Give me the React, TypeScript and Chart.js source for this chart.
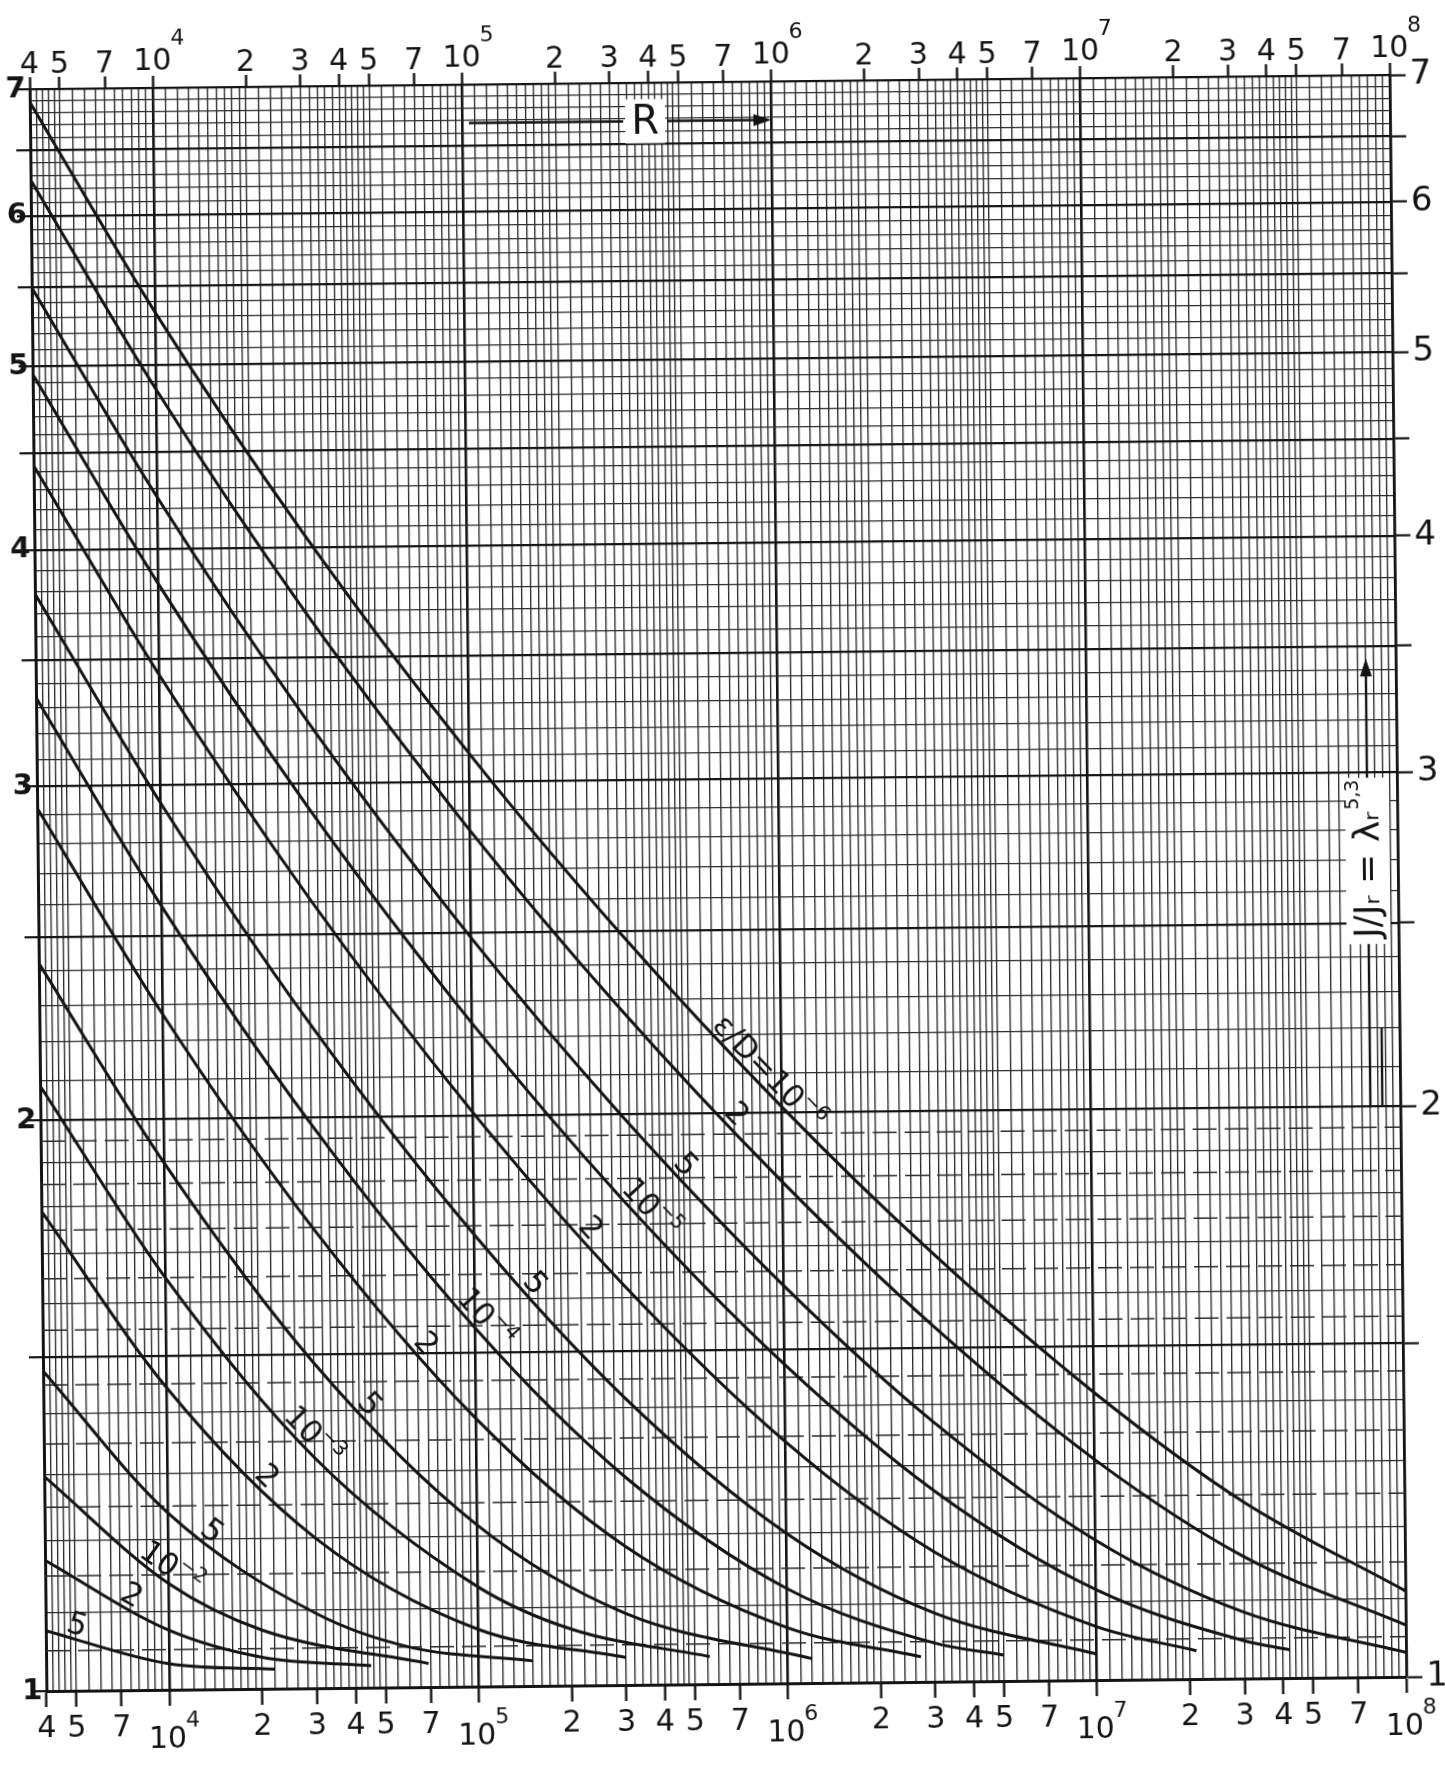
import React, { useEffect, useRef } from 'react';
import { Chart, registerables } from 'chart.js';

Chart.register(...registerables);

const FONT = "'DejaVu Sans', 'Liberation Sans', sans-serif";

// ---- values: R (Reynolds number) vs J/Jr, one pair of arrays per ε/D curve ----
const R_eps1e6 = [4e3, 1e4, 3e4, 1e5, 3e5, 1e6, 3e6, 1e7, 3e7, 1e8];
const J_eps1e6 = [6.89, 5.33, 4.055, 3.107, 2.499, 2.014, 1.686, 1.418, 1.24, 1.11];
const R_eps2e6 = [4e3, 1e4, 3e4, 1e5, 3e5, 1e6, 3e6, 1e7, 3e7, 1e8];
const J_eps2e6 = [6.27, 4.855, 3.693, 2.83, 2.277, 1.838, 1.543, 1.307, 1.16, 1.065];
const R_eps5e6 = [4e3, 1e4, 3e4, 1e5, 3e5, 1e6, 3e6, 1e7, 3e7, 1e8];
const J_eps5e6 = [5.5, 4.259, 3.24, 2.484, 2.001, 1.621, 1.372, 1.185, 1.084, 1.03];
const R_eps1e5 = [4e3, 1e4, 3e4, 1e5, 3e5, 1e6, 3e6, 1e7, 3e7, 4.2e7];
const J_eps1e5 = [4.951, 3.835, 2.917, 2.239, 1.807, 1.473, 1.262, 1.116, 1.047, 1.035];
const R_eps2e5 = [4e3, 1e4, 3e4, 1e5, 3e5, 1e6, 3e6, 1e7, 2.1e7];
const J_eps2e5 = [4.431, 3.433, 2.613, 2.009, 1.629, 1.341, 1.171, 1.067, 1.035];
const R_eps5e5 = [4e3, 1e4, 3e4, 1e5, 3e5, 1e6, 3e6, 1e7];
const J_eps5e5 = [3.792, 2.939, 2.241, 1.732, 1.42, 1.2, 1.087, 1.032];
const R_eps1e4 = [4e3, 1e4, 3e4, 1e5, 3e5, 1e6, 3e6, 5e6];
const J_eps1e4 = [3.343, 2.592, 1.984, 1.546, 1.289, 1.122, 1.048, 1.032];
const R_eps2e4 = [4e3, 1e4, 3e4, 1e5, 3e5, 1e6, 2.7e6];
const J_eps2e4 = [2.923, 2.273, 1.751, 1.385, 1.184, 1.07, 1.031];
const R_eps5e4 = [4e3, 1e4, 3e4, 1e5, 3e5, 1.2e6];
const J_eps5e4 = [2.421, 1.897, 1.485, 1.217, 1.091, 1.03];
const R_eps1e3 = [4e3, 1e4, 3e4, 1e5, 2e5, 5.6e5];
const J_eps1e3 = [2.086, 1.65, 1.323, 1.129, 1.071, 1.034];
const R_eps2e3 = [4e3, 1e4, 3e4, 1e5, 3e5];
const J_eps2e3 = [1.791, 1.444, 1.2, 1.072, 1.034];
const R_eps5e3 = [4e3, 1e4, 3e4, 6e4, 1.5e5];
const J_eps5e3 = [1.475, 1.24, 1.095, 1.05, 1.031];
const R_eps1e2 = [4e3, 1e4, 2e4, 6.9e4];
const J_eps1e2 = [1.298, 1.138, 1.074, 1.029];
const R_eps2e2 = [4e3, 1e4, 2e4, 4.5e4];
const J_eps2e2 = [1.172, 1.075, 1.039, 1.027];
const R_eps5e2 = [4e3, 1e4, 2.2e4];
const J_eps5e2 = [1.076, 1.032, 1.024];

// curve captions (top = smoothest) and the R where each caption sits
const curveLabels = ['ε/D=10⁻⁶', '2', '5', '10⁻⁵', '2', '5', '10⁻⁴', '2', '5', '10⁻³', '2', '5', '10⁻²', '2', '5'];
const curveLabelR = [8.4e5, 6.6e5, 4.5e5, 3.45e5, 2.2e5, 1.45e5, 1.0e5, 6.4e4, 4.2e4, 2.75e4, 1.95e4, 1.3e4, 9.6e3, 7.2e3, 4.9e3];

// axes
const xRange = [4000, 1e8];
const yRange = [1, 7];
const xLabelMantissas = [2, 3, 4, 5, 7];
const xDecades = [1e4, 1e5, 1e6, 1e7, 1e8];
const yLabelValues = [1, 2, 3, 4, 5, 6, 7];

// title arrow positions
const rArrowY = 6.68;
const rArrowFrom = 1.05e5;
const rArrowTo = 9.7e5;
const rLabelAt = 3.9e5;
const yTitleAtR = 8.0e7;
const yTitleFrom = 2;
const yTitleTo = 3.43;
const yTitleTextAt = 2.65;

const curvesR = [R_eps1e6, R_eps2e6, R_eps5e6, R_eps1e5, R_eps2e5, R_eps5e5, R_eps1e4, R_eps2e4, R_eps5e4, R_eps1e3, R_eps2e3, R_eps5e3, R_eps1e2, R_eps2e2, R_eps5e2];
const curvesJ = [J_eps1e6, J_eps2e6, J_eps5e6, J_eps1e5, J_eps2e5, J_eps5e5, J_eps1e4, J_eps2e4, J_eps5e4, J_eps1e3, J_eps2e3, J_eps5e3, J_eps1e2, J_eps2e2, J_eps5e2];

// ---- graph paper rulings ----
function buildXGrid(): number[] {
  const out: number[] = [];
  const steps: number[] = [];
  for (let k = 10; k < 20; k++) steps.push(k);       // 1.0 .. 1.9 by 0.1
  for (let k = 20; k < 50; k += 2) steps.push(k);    // 2.0 .. 4.8 by 0.2
  for (let k = 50; k < 100; k += 5) steps.push(k);   // 5.0 .. 9.5 by 0.5
  for (let e = 3; e <= 7; e++) {
    for (const k of steps) {
      const v = k * Math.pow(10, e - 1);
      if (v >= xRange[0] - 1e-6 && v <= xRange[1] + 1e-6) out.push(v);
    }
  }
  out.push(xRange[1]);
  return out;
}
const xGrid = buildXGrid();
const yGrid: number[] = [];
for (let k = 10; k <= 70; k++) yGrid.push(k / 10);
const yDash: number[] = [];
for (let k = 21; k < 40; k += 2) yDash.push(k / 20);

const SUP: Record<string, string> = { '0': '⁰', '1': '¹', '2': '²', '3': '³', '4': '⁴', '5': '⁵', '6': '⁶', '7': '⁷', '8': '⁸', '9': '⁹', '-': '⁻' };
const UNSUP: Record<string, string> = {};
Object.keys(SUP).forEach((k) => { UNSUP[SUP[k]] = k === '-' ? '−' : k; });

function decadeExp(v: number): number | null {
  const l = Math.log10(v);
  const r = Math.round(l);
  return Math.abs(l - r) < 1e-6 ? r : null;
}
function mantissa(v: number): number {
  const e = Math.floor(Math.log10(v) + 1e-9);
  return v / Math.pow(10, e);
}
function xDigitLabel(v: number): string {
  if (decadeExp(v) !== null) return '';
  const m = mantissa(v);
  return xLabelMantissas.some((k) => Math.abs(m - k) < 1e-6) ? String(Math.round(m)) : '';
}
const isLabeledX = (v: number) => decadeExp(v) !== null || xDigitLabel(v) !== '';
const isHalf = (v: number) => Math.abs(v * 2 - Math.round(v * 2)) < 1e-6;
const tickVal = (ctx: any): number | null => (ctx && ctx.tick ? ctx.tick.value : null);

const INK = '#141414';
const GRID = '#2c2c2c';

// draws text whose unicode superscript characters are set as real raised, smaller glyphs
function drawRich(ctx: any, text: string, x: number, y: number, size: number, align: 'center' | 'left') {
  const runs: { t: string; sup: boolean }[] = [];
  for (const ch of text) {
    const sup = ch in UNSUP;
    const c = sup ? UNSUP[ch] : ch;
    if (runs.length && runs[runs.length - 1].sup === sup) runs[runs.length - 1].t += c;
    else runs.push({ t: c, sup });
  }
  const supSize = Math.round(size * 0.66);
  let total = 0;
  const widths = runs.map((r) => {
    ctx.font = `${r.sup ? supSize : size}px ${FONT}`;
    const w = ctx.measureText(r.t).width;
    total += w;
    return w;
  });
  let cx = align === 'center' ? x - total / 2 : x;
  ctx.textAlign = 'left';
  ctx.textBaseline = 'alphabetic';
  runs.forEach((r, i) => {
    ctx.font = `${r.sup ? supSize : size}px ${FONT}`;
    ctx.fillText(r.t, cx, r.sup ? y - size * 0.45 : y);
    cx += widths[i];
  });
}

// ---- plugins ----
const dashedGridPlugin = {
  id: 'dashedGrid',
  beforeDatasetsDraw(chart: any) {
    const { ctx, chartArea } = chart;
    const ys = chart.scales.y;
    ctx.save();
    ctx.beginPath();
    ctx.rect(chartArea.left, chartArea.top, chartArea.right - chartArea.left, chartArea.bottom - chartArea.top);
    ctx.clip();
    ctx.setLineDash([24, 8]);
    ctx.strokeStyle = GRID;
    ctx.lineWidth = 1.5;
    for (const v of yDash) {
      const py = ys.getPixelForValue(v);
      ctx.beginPath();
      ctx.moveTo(chartArea.left, py);
      ctx.lineTo(chartArea.right, py);
      ctx.stroke();
    }
    ctx.restore();
  },
};

const decadeLabelPlugin = {
  id: 'decadeLabels',
  afterDraw(chart: any) {
    const { ctx, chartArea } = chart;
    const xs = chart.scales.x;
    ctx.save();
    ctx.fillStyle = INK;
    for (const v of xDecades) {
      const px = xs.getPixelForValue(v);
      const e = String(decadeExp(v));
      ctx.font = `30px ${FONT}`;
      const w = ctx.measureText('10').width;
      ctx.textBaseline = 'middle';
      // bottom
      ctx.textAlign = 'center';
      ctx.font = `30px ${FONT}`;
      ctx.fillText('10', px - 2, chartArea.bottom + 50);
      ctx.textAlign = 'left';
      ctx.font = `22px ${FONT}`;
      ctx.fillText(e, px + w / 2 - 3, chartArea.bottom + 31);
      // top
      ctx.textAlign = 'center';
      ctx.font = `30px ${FONT}`;
      ctx.fillText('10', px, chartArea.top - 26);
      ctx.textAlign = 'left';
      ctx.font = `22px ${FONT}`;
      ctx.fillText(e, px + w / 2 - 1, chartArea.top - 49);
    }
    ctx.restore();
  },
};

function bez(t: number, p0: number, p1: number, p2: number, p3: number) {
  const u = 1 - t;
  return u * u * u * p0 + 3 * u * u * t * p1 + 3 * u * t * t * p2 + t * t * t * p3;
}
function bezD(t: number, p0: number, p1: number, p2: number, p3: number) {
  const u = 1 - t;
  return 3 * u * u * (p1 - p0) + 6 * u * t * (p2 - p1) + 3 * t * t * (p3 - p2);
}
function pointOnCurve(chart: any, di: number, xPix: number) {
  const pts = chart.getDatasetMeta(di).data as any[];
  for (let j = 0; j < pts.length - 1; j++) {
    const a = pts[j];
    const b = pts[j + 1];
    if (xPix >= a.x && xPix <= b.x) {
      const c1x = a.cp2x ?? a.x, c1y = a.cp2y ?? a.y;
      const c2x = b.cp1x ?? b.x, c2y = b.cp1y ?? b.y;
      let lo = 0, hi = 1;
      for (let k = 0; k < 40; k++) {
        const m = (lo + hi) / 2;
        if (bez(m, a.x, c1x, c2x, b.x) < xPix) lo = m; else hi = m;
      }
      const t = (lo + hi) / 2;
      return {
        x: bez(t, a.x, c1x, c2x, b.x),
        y: bez(t, a.y, c1y, c2y, b.y),
        angle: Math.atan2(bezD(t, a.y, c1y, c2y, b.y), bezD(t, a.x, c1x, c2x, b.x)),
      };
    }
  }
  return null;
}

const curveLabelPlugin = {
  id: 'curveLabels',
  afterDatasetsDraw(chart: any) {
    const { ctx } = chart;
    const xs = chart.scales.x;
    ctx.save();
    ctx.fillStyle = INK;
    curveLabels.forEach((text, i) => {
      const p = pointOnCurve(chart, i, xs.getPixelForValue(curveLabelR[i]));
      if (!p) return;
      ctx.save();
      ctx.translate(p.x, p.y);
      ctx.rotate(p.angle);
      drawRich(ctx, text, 0, -5, 31, 'center');
      ctx.restore();
    });
    ctx.restore();
  },
};

const titlesPlugin = {
  id: 'titles',
  afterDatasetsDraw(chart: any) {
    const { ctx } = chart;
    const xs = chart.scales.x;
    const ys = chart.scales.y;
    ctx.save();
    // R arrow along the top
    const ay = ys.getPixelForValue(rArrowY);
    const ax0 = xs.getPixelForValue(rArrowFrom);
    const ax1 = xs.getPixelForValue(rArrowTo);
    const rx = xs.getPixelForValue(rLabelAt);
    ctx.font = `40px ${FONT}`;
    const rw = ctx.measureText('R').width;
    ctx.fillStyle = '#fff';
    ctx.fillRect(rx - rw / 2 - 6, ay - 22, rw + 12, 44);
    ctx.strokeStyle = INK;
    ctx.lineWidth = 2.4;
    ctx.beginPath();
    ctx.moveTo(ax0, ay);
    ctx.lineTo(rx - rw / 2 - 8, ay);
    ctx.moveTo(rx + rw / 2 + 8, ay);
    ctx.lineTo(ax1 - 4, ay);
    ctx.stroke();
    ctx.fillStyle = INK;
    ctx.beginPath();
    ctx.moveTo(ax1 + 4, ay);
    ctx.lineTo(ax1 - 14, ay - 6);
    ctx.lineTo(ax1 - 14, ay + 6);
    ctx.closePath();
    ctx.fill();
    ctx.textAlign = 'center';
    ctx.textBaseline = 'middle';
    ctx.fillText('R', rx, ay + 2);

    // vertical title on the right
    const tx = xs.getPixelForValue(yTitleAtR);
    const ty0 = ys.getPixelForValue(yTitleFrom);
    const ty1 = ys.getPixelForValue(yTitleTo);
    const tyc = ys.getPixelForValue(yTitleTextAt);
    ctx.lineWidth = 2.4;
    ctx.beginPath();
    ctx.moveTo(tx, ty0);
    ctx.lineTo(tx, ty1 + 10);
    ctx.moveTo(tx + 12, ty0);
    ctx.lineTo(tx + 12, ys.getPixelForValue(2.2));
    ctx.stroke();
    ctx.beginPath();
    ctx.moveTo(tx, ty1 - 4);
    ctx.lineTo(tx - 6, ty1 + 14);
    ctx.lineTo(tx + 6, ty1 + 14);
    ctx.closePath();
    ctx.fill();
    ctx.translate(tx, tyc);
    ctx.rotate(-Math.PI / 2);
    ctx.font = `36px ${FONT}`;
    const main = 'J/Jᵣ = λᵣ';
    const w = ctx.measureText(main).width;
    ctx.fillStyle = '#fff';
    ctx.fillRect(-w / 2 - 6, -22, w + 40, 44);
    ctx.fillStyle = INK;
    ctx.textAlign = 'center';
    ctx.textBaseline = 'middle';
    ctx.fillText(main, 0, 2);
    ctx.font = `19px ${FONT}`;
    ctx.textAlign = 'left';
    ctx.fillText('5,3', w / 2 + 2, -14);
    ctx.restore();
  },
};

export default function App() {
  const ref = useRef<HTMLCanvasElement>(null);

  useEffect(() => {
    const canvas = ref.current;
    if (!canvas) return;

    const datasets = curvesR.map((rs, i) => ({
      label: curveLabels[i],
      data: rs.map((r, k) => ({ x: r, y: curvesJ[i][k] })),
      borderColor: INK,
      borderWidth: 3,
      pointRadius: 0,
      fill: false,
      cubicInterpolationMode: 'monotone' as const,
    }));

    const xGridColor = (ctx: any) => (decadeExp(tickVal(ctx) ?? 2) !== null ? INK : GRID);
    const xGridWidth = (ctx: any) => (decadeExp(tickVal(ctx) ?? 2) !== null ? 2.6 : 1.35);
    const xTickColor = (ctx: any) => {
      const v = tickVal(ctx);
      return v !== null && isLabeledX(v) ? INK : 'rgba(0,0,0,0)';
    };
    const yGridWidth = (ctx: any) => {
      const v = tickVal(ctx);
      return v !== null && isHalf(v) ? 2.2 : 1.35;
    };
    const yGridColor = (ctx: any) => {
      const v = tickVal(ctx);
      return v !== null && isHalf(v) ? INK : GRID;
    };
    const yTickColor = (ctx: any) => {
      const v = tickVal(ctx);
      return v !== null && isHalf(v) ? INK : 'rgba(0,0,0,0)';
    };
    const yLabel = (v: any) => (yLabelValues.some((k) => Math.abs(Number(v) - k) < 1e-6) ? String(Math.round(Number(v))) : '');

    const chart = new Chart(canvas, {
      type: 'line',
      data: { datasets },
      options: {
        animation: false,
        responsive: false,
        maintainAspectRatio: false,
        devicePixelRatio: 1,
        layout: { padding: 0 },
        plugins: { legend: { display: false }, tooltip: { enabled: false } },
        scales: {
          x: {
            type: 'logarithmic',
            position: 'bottom',
            min: xRange[0],
            max: xRange[1],
            bounds: 'data',
            afterBuildTicks: (s: any) => { s.ticks = xGrid.map((v) => ({ value: v })); },
            afterFit: (s: any) => { s.height = 81; },
            ticks: {
              autoSkip: false, maxRotation: 0, minRotation: 0, padding: 4, color: INK,
              font: { family: FONT, size: 30 },
              callback: (v: any) => xDigitLabel(Number(v)),
            },
            grid: { color: xGridColor, lineWidth: xGridWidth, tickLength: 16, tickWidth: 2.4, tickColor: xTickColor },
            border: { display: true, color: INK, width: 3 },
          },
          xTop: {
            type: 'logarithmic',
            position: 'top',
            min: xRange[0],
            max: xRange[1],
            bounds: 'data',
            afterBuildTicks: (s: any) => { s.ticks = xGrid.map((v) => ({ value: v })); },
            afterFit: (s: any) => { s.height = 82; },
            ticks: {
              autoSkip: false, maxRotation: 0, minRotation: 0, padding: -6, color: INK,
              font: { family: FONT, size: 30 },
              callback: (v: any) => xDigitLabel(Number(v)),
            },
            grid: { drawOnChartArea: false, tickLength: 12, tickWidth: 2.4, tickColor: xTickColor },
            border: { display: false },
          },
          y: {
            type: 'logarithmic',
            position: 'left',
            min: yRange[0],
            max: yRange[1],
            bounds: 'data',
            afterBuildTicks: (s: any) => { s.ticks = yGrid.map((v) => ({ value: v })); },
            afterFit: (s: any) => { s.width = 38; },
            ticks: {
              autoSkip: false, padding: -10, color: INK,
              font: { family: FONT, size: 29, weight: 'bold' },
              callback: yLabel,
            },
            grid: { color: yGridColor, lineWidth: yGridWidth, tickLength: 14, tickWidth: 2.2, tickColor: yTickColor },
            border: { display: true, color: INK, width: 3 },
          },
          yRight: {
            type: 'logarithmic',
            position: 'right',
            min: yRange[0],
            max: yRange[1],
            bounds: 'data',
            afterBuildTicks: (s: any) => { s.ticks = yGrid.map((v) => ({ value: v })); },
            afterFit: (s: any) => { s.width = 47; },
            ticks: {
              autoSkip: false, padding: 4, color: INK,
              font: { family: FONT, size: 34 },
              callback: yLabel,
            },
            grid: { drawOnChartArea: false, tickLength: 16, tickWidth: 2.2, tickColor: yTickColor },
            border: { display: true, color: INK, width: 2.6 },
          },
        },
      } as any,
      plugins: [dashedGridPlugin, curveLabelPlugin, titlesPlugin, decadeLabelPlugin],
    });

    return () => chart.destroy();
  }, []);

  return (
    <div style={{ position: 'fixed', left: 0, top: 0, width: 1445, height: 1765, overflow: 'hidden', background: '#fff' }}>
      <div style={{ width: 1445, height: 1765, transform: 'rotate(-0.6deg)', transformOrigin: '718px 883px' }}>
        <canvas ref={ref} width={1445} height={1765} style={{ display: 'block', width: 1445, height: 1765 }} />
      </div>
    </div>
  );
}
